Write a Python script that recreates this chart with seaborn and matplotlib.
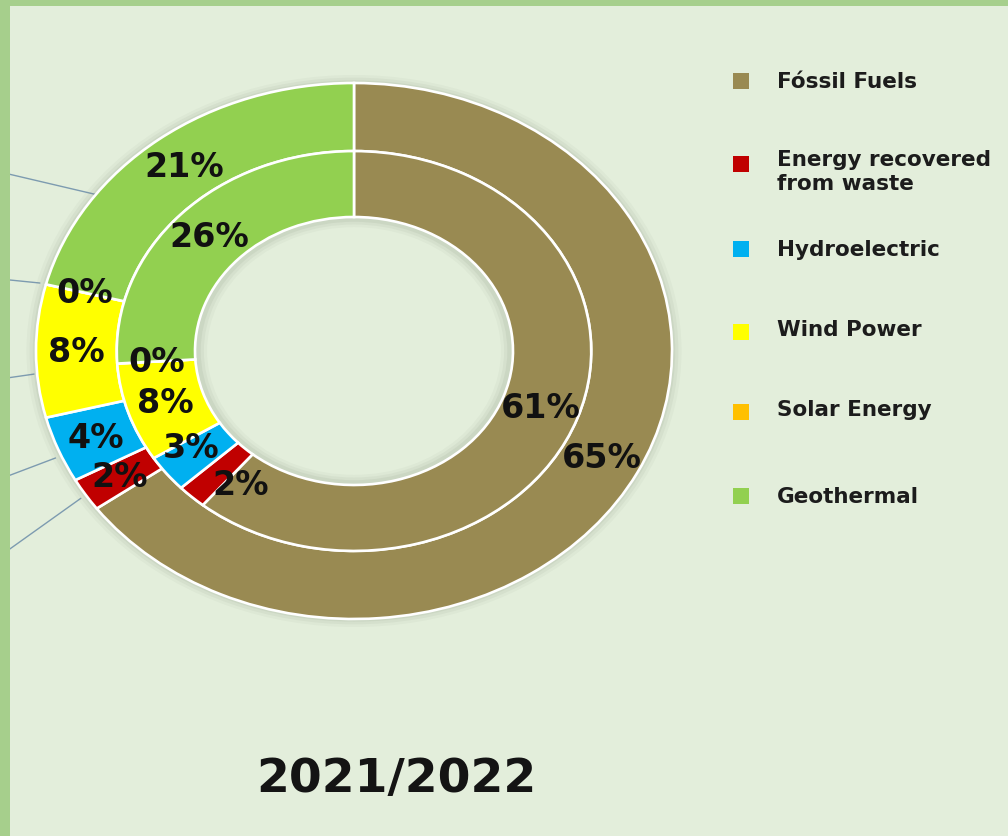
import numpy as np
import matplotlib
matplotlib.use("Agg")
import matplotlib.pyplot as plt
import seaborn as sns
from matplotlib.patches import Rectangle

# Energy mix shares (%), outer ring and inner ring
categories = ["Fóssil Fuels", "Energy recovered\nfrom waste", "Hydroelectric",
              "Wind Power", "Solar Energy", "Geothermal"]
share_outer = [65, 2, 4, 8, 0, 21]
share_inner = [61, 2, 3, 8, 0, 26]
period_label = "2021/2022"

hex_colors = ["#998a52", "#c00000", "#00b0f0", "#ffff00", "#ffc000", "#92d050"]

BG = "#e3eedb"
BORDER = "#a6cf8c"
LEADER = "#7d9bb0"

sns.set_theme(style="white", rc={"figure.facecolor": BG, "axes.facecolor": BG,
                                 "savefig.facecolor": BG})
palette = sns.color_palette(hex_colors)

W, H = 1008, 837
fig = plt.figure(figsize=(W / 100, H / 100), dpi=100)

# Donut axes: the rings are drawn stretched horizontally (x unit = 318 px, y unit = 268 px)
cx, cy = 354, 352
sx, sy = 318, 268
ax = fig.add_axes([0, 0, 1, 1])

ring_w = 0.254
r_inner = 1 - ring_w
label_kw = dict(fontsize=24, fontweight="bold", color="#111111", family="DejaVu Sans")
wedge_kw = dict(edgecolor="white", linewidth=1.9)

# Soft halo around the donut edges
for k, a in zip([0.030, 0.020, 0.010], [0.05, 0.07, 0.09]):
    ax.pie([1], radius=1.0 + k, colors=["#6f7d68"],
           wedgeprops=dict(width=0.508 + 2 * k, linewidth=0, alpha=a))

outer_wedges, _, outer_txt = ax.pie(
    share_outer, radius=1.0, colors=palette, startangle=90, counterclock=False,
    autopct="%.0f%%", pctdistance=1 - ring_w / 2,
    wedgeprops=dict(width=ring_w, **wedge_kw), textprops=label_kw)
inner_wedges, _, inner_txt = ax.pie(
    share_inner, radius=r_inner, colors=palette, startangle=90, counterclock=False,
    autopct="%.0f%%", pctdistance=(r_inner - 0.246 / 2) / r_inner,
    wedgeprops=dict(width=0.246, **wedge_kw), textprops=label_kw)

# keep the crowded small-slice labels of the inner ring apart
x2, y2 = inner_txt[1].get_position()
inner_txt[1].set_position((x2 + 0.07, y2 - 0.045))
x3, y3 = inner_txt[2].get_position()
inner_txt[2].set_position((x3 - 0.02, y3 + 0.02))

ax.set_aspect("auto")
ax.set_xlim(-cx / sx, (W - cx) / sx)
ax.set_ylim(-(H - cy) / sy, cy / sy)
ax.axis("off")

# Leader lines from the left margin to the outer-ring wedges
leader_targets = [5, 4, 3, 2, 1]           # geothermal, solar, wind, hydro, waste
leader_frac = [0.3, 0.5, 0.33, 0.4, 0.47]
leader_r = [0.94, 1.02, 1.01, 1.02, 1.02]
leader_start_y = [173, 280, 380, 480, 557]
for idx, frac, rr, py in zip(leader_targets, leader_frac, leader_r, leader_start_y):
    w = outer_wedges[idx]
    ang = np.deg2rad(w.theta2 + (w.theta1 - w.theta2) * frac)
    ax.plot([-cx / sx, rr * np.cos(ang)], [(cy - py) / sy, rr * np.sin(ang)],
            color=LEADER, lw=1.0, zorder=0.5)

# Overlay in pixel units for legend, title and frame
lay = fig.add_axes([0, 0, 1, 1], facecolor="none")
lay.set_xlim(0, W)
lay.set_ylim(H, 0)
lay.axis("off")

marker_y = [82, 165, 250, 333, 413, 497]
text_y = [82, 172, 250, 330, 410, 497]
for cat, col, my, ty in zip(categories, palette, marker_y, text_y):
    lay.add_patch(Rectangle((733, my - 8), 16, 16, facecolor=col, edgecolor="none"))
    lay.text(777, ty, cat, ha="left", va="center", fontsize=15.5, fontweight="bold",
             color="#1c1c1c", family="DejaVu Sans", linespacing=1.3)

lay.text(396, 780, period_label, ha="center", va="center", fontsize=34,
         fontweight="bold", color="#141414", family="DejaVu Sans")

lay.add_patch(Rectangle((0, 0), W, 7, facecolor=BORDER, edgecolor="none", zorder=5))
lay.add_patch(Rectangle((0, 0), 10, H, facecolor=BORDER, edgecolor="none", zorder=5))

fig.savefig("out.png", dpi=100, facecolor=BG)
